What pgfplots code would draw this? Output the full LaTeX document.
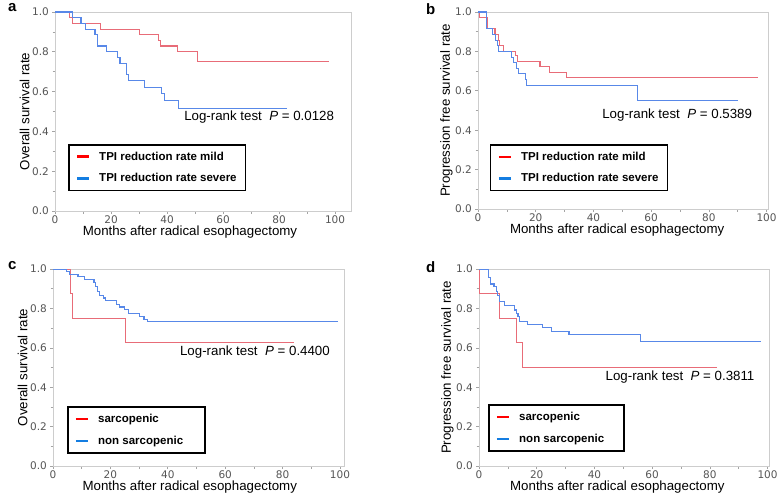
\documentclass[border=0pt]{standalone}
\usepackage{pgfplots}
\pgfplotsset{compat=1.18}
\usepackage{fontspec}
\setmainfont{Liberation Sans}
\newfontfamily\dejavu{DejaVu Sans}
\definecolor{kmred}{RGB}{232,108,120}
\definecolor{kmblue}{RGB}{88,136,232}
\definecolor{lgred}{RGB}{255,0,0}
\definecolor{lgblue}{RGB}{20,125,225}
\definecolor{axgray}{RGB}{205,205,205}
\definecolor{tkgray}{RGB}{85,85,85}
\pgfplotsset{
 km/.style={
  scale only axis, xmin=0, ymin=0, ymax=1,
  xtick={0,20,40,60,80,100}, ytick={0,0.2,0.4,0.6,0.8,1},
  minor x tick num=1, minor y tick num=1,
  tick align=outside, tick pos=left,
  axis line style={draw=axgray, line width=0.9pt},
  major tick length=3pt, minor tick length=2.5pt,
  every tick/.style={axgray!80!black, line width=0.6pt},
  /pgf/number format/assume math mode=true,
  ticklabel style={font=\dejavu\fontsize{10.5}{12}\selectfont, text=tkgray},
  xticklabel style={inner sep=1pt, yshift=-1pt},
  yticklabel style={inner sep=1pt, xshift=-2pt, /pgf/number format/fixed, /pgf/number format/fixed zerofill, /pgf/number format/precision=1},
  label style={font=\fontsize{13.3}{15}\selectfont},
  xlabel={Months after radical esophagectomy},
  xlabel style={at={(axis description cs:#1,0)}, anchor=north, inner sep=0pt, yshift=-15pt},
  ylabel style={yshift=-2pt},
  legend cell align=left,
  legend image code/.code={\draw[##1] (0pt,0pt) -- (12pt,0pt);},
 },
 kml/.style={const plot, no markers, line width=1.1pt, forget plot},
 lr/.style={draw=lgred, line width=2.4pt},
 lb/.style={draw=lgblue, line width=2.4pt},
 kmleg/.style={legend style={at={(#1)}, anchor=north west, draw=black, line width=1.6pt,
  font=\bfseries\fontsize{11.5}{13}\selectfont, row sep=8pt, inner xsep=7pt, inner ysep=5pt,
  /tikz/every odd column/.append style={column sep=7pt}}},
}
\newcommand\lr[1]{Log-rank test\ \ \textit{P} = #1}
\begin{document}
\begin{tikzpicture}
\useasboundingbox (0pt,0pt) rectangle (778pt,-494pt);
\node[anchor=north west, inner sep=0pt, font=\bfseries\fontsize{15}{15}\selectfont] at (8pt,-3.5pt) {a};
\node[anchor=north west, inner sep=0pt, font=\bfseries\fontsize{15}{15}\selectfont] at (426pt,-3.5pt) {b};
\node[anchor=north west, inner sep=0pt, font=\bfseries\fontsize{15}{15}\selectfont] at (8pt,-261pt) {c};
\node[anchor=north west, inner sep=0pt, font=\bfseries\fontsize{15}{15}\selectfont] at (426pt,-261pt) {d};

% panel a
\begin{axis}[km=0.456, at={(55pt,-211pt)}, anchor=south west, width=296pt, height=199pt, xmax=105.7,
  ylabel={Overall survival rate}, kmleg={0.044,0.337}]
\addlegendimage{lr}\addlegendentry{TPI reduction rate mild}
\addlegendimage{lb}\addlegendentry{TPI reduction rate severe}
\addplot[kml, kmred] coordinates {(0,1) (5.2,0.971) (6.2,0.943) (16.2,0.914) (30.1,0.886) (37.0,0.857) (37.8,0.829) (43.8,0.80) (51.0,0.75) (97.7,0.75)};
\addplot[kml, kmblue] coordinates {(0,1) (6.2,0.971) (9.3,0.943) (10.9,0.914) (14.3,0.886) (15.2,0.829) (18.5,0.80) (22.3,0.771) (23.2,0.743) (25.4,0.686) (26.2,0.655) (32.1,0.622) (38.1,0.59) (39.0,0.555) (44.0,0.514) (82.7,0.514)};
\node[anchor=west, inner sep=0pt, font=\fontsize{13.3}{15}\selectfont] at (rel axis cs:0.436,0.472) {\lr{0.0128}};
\end{axis}

% panel b
\begin{axis}[km=0.48, at={(478pt,-209pt)}, anchor=south west, width=290pt, height=197pt, xmax=100.5,
  ylabel={Progression free survival rate}, kmleg={0.041,0.33}]
\addlegendimage{lr}\addlegendentry{TPI reduction rate mild}
\addlegendimage{lb}\addlegendentry{TPI reduction rate severe}
\addplot[kml, kmred] coordinates {(0,1) (0.5,0.971) (3.4,0.914) (5.9,0.886) (7.0,0.857) (7.5,0.829) (8.9,0.80) (12.9,0.778) (13.8,0.75) (21.5,0.722) (24.9,0.694) (30.6,0.667) (96.9,0.667)};
\addplot[kml, kmblue] coordinates {(0,1) (3.0,0.914) (5.0,0.886) (6.1,0.857) (6.8,0.829) (7.0,0.80) (11.6,0.771) (12.4,0.743) (13.2,0.714) (14.1,0.686) (16.4,0.657) (16.9,0.629) (55.2,0.549) (90.0,0.549)};
\node[anchor=west, inner sep=0pt, font=\fontsize{13.3}{15}\selectfont] at (rel axis cs:0.428,0.477) {\lr{0.5389}};
\end{axis}

% panel c
\begin{axis}[km=0.47, at={(53pt,-466pt)}, anchor=south west, width=291pt, height=197pt, xmax=101.4,
  ylabel={Overall survival rate}, kmleg={0.048,0.303}]
\addlegendimage{lr}\addlegendentry{sarcopenic}
\addlegendimage{lb}\addlegendentry{\makebox[98pt][l]{non sarcopenic}}
\addplot[kml, kmred] coordinates {(0,1) (6.0,0.875) (6.9,0.75) (25.4,0.625) (84.1,0.625)};
\addplot[kml, kmblue] coordinates {(0,1) (4.6,0.988) (5.8,0.971) (8.7,0.96) (11.0,0.948) (14.3,0.93) (14.8,0.909) (15.5,0.887) (16.3,0.866) (17.5,0.853) (18.4,0.841) (22.1,0.819) (23.3,0.807) (24.8,0.794) (26.4,0.773) (30.2,0.757) (31.7,0.745) (33.0,0.733) (99.2,0.733)};
\node[anchor=west, inner sep=0pt, font=\fontsize{13.3}{15}\selectfont] at (rel axis cs:0.436,0.576) {\lr{0.4400}};
\end{axis}

% panel d
\begin{axis}[km=0.477, at={(479pt,-466pt)}, anchor=south west, width=290pt, height=197pt, xmax=100.5,
  ylabel={Progression free survival rate}, kmleg={0.031,0.313}]
\addlegendimage{lr}\addlegendentry{sarcopenic}
\addlegendimage{lb}\addlegendentry{\makebox[96pt][l]{non sarcopenic}}
\addplot[kml, kmred] coordinates {(0,1) (0.3,0.875) (7.2,0.75) (13.1,0.625) (15.2,0.50) (82.6,0.50)};
\addplot[kml, kmblue] coordinates {(0,1) (3.2,0.955) (4.1,0.924) (5.2,0.909) (6.1,0.884) (6.4,0.864) (7.2,0.834) (8.9,0.817) (12.4,0.792) (12.9,0.775) (13.5,0.759) (14.1,0.733) (16.9,0.72) (22.1,0.703) (25.2,0.683) (31.2,0.667) (56.0,0.63) (97.6,0.63)};
\node[anchor=west, inner sep=0pt, font=\fontsize{13.3}{15}\selectfont] at (rel axis cs:0.436,0.45) {\lr{0.3811}};
\end{axis}
\end{tikzpicture}
\end{document}
